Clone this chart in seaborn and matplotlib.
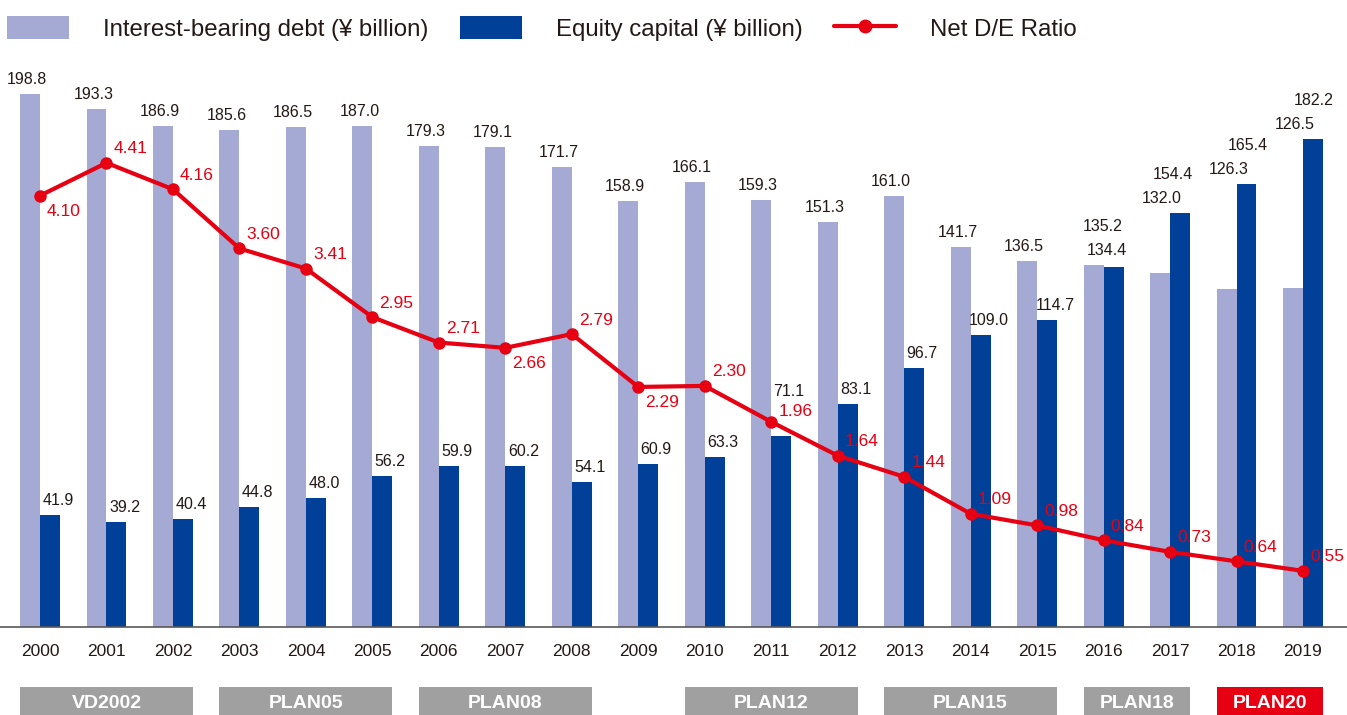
import numpy as np
import pandas as pd
import matplotlib
matplotlib.use("Agg")
import matplotlib.pyplot as plt
import matplotlib.transforms as mtransforms
from matplotlib.patches import Patch, Rectangle
from matplotlib.lines import Line2D
import seaborn as sns

years = list(range(2000, 2020))
debt = [198.8, 193.3, 186.9, 185.6, 186.5, 187.0, 179.3, 179.1, 171.7, 158.9,
        166.1, 159.3, 151.3, 161.0, 141.7, 136.5, 135.2, 132.0, 126.3, 126.5]
equity = [41.9, 39.2, 40.4, 44.8, 48.0, 56.2, 59.9, 60.2, 54.1, 60.9,
          63.3, 71.1, 83.1, 96.7, 109.0, 114.7, 134.4, 154.4, 165.4, 182.2]
de_ratio = [4.10, 4.41, 4.16, 3.60, 3.41, 2.95, 2.71, 2.66, 2.79, 2.29,
            2.30, 1.96, 1.64, 1.44, 1.09, 0.98, 0.84, 0.73, 0.64, 0.55]

plan_names = ["VD2002", "PLAN05", "PLAN08", "PLAN12", "PLAN15", "PLAN18", "PLAN20"]
plan_start = [2000, 2003, 2006, 2010, 2013, 2016, 2018]
plan_end = [2002, 2005, 2008, 2012, 2015, 2017, 2019]

series_names = ["Interest-bearing debt (¥ billion)", "Equity capital (¥ billion)"]
line_name = "Net D/E Ratio"

# ratio labels drawn under the point instead of above
ratio_below = [2000, 2007, 2009]
# years where the two bar labels are stacked over the taller bar
stacked_years = [2016, 2017, 2018, 2019]

C_DEBT = "#a5aad4"
C_EQ = "#004098"
C_RED = "#e60012"
C_TXT = "#231815"
C_PLAN = "#a0a0a0"

sns.set_style("white")
plt.rcParams["font.family"] = ["Liberation Sans", "DejaVu Sans"]
NARROW = ["Liberation Sans Narrow", "Liberation Sans", "DejaVu Sans"]

df = pd.DataFrame({
    "year": years * 2,
    "value": debt + equity,
    "series": [series_names[0]] * len(years) + [series_names[1]] * len(years),
})

fig = plt.figure(figsize=(13.47, 7.15), dpi=100)
ax = fig.add_axes([0, (715 - 627) / 715, 1, (627 - 60) / 715])

sns.barplot(data=df, x="year", y="value", hue="series", palette=[C_DEBT, C_EQ],
            width=0.6, gap=0, saturation=1, legend=False, linewidth=0,
            edgecolor="none", ax=ax)

ax.set_xlim(-40 / 66.45, 19 + 44 / 66.45)
ax.set_ylim(0, 567 / 2.68)
ax.set_xlabel("")
ax.set_ylabel("")
ax.set_yticks([])
for s in ["top", "left", "right"]:
    ax.spines[s].set_visible(False)
ax.spines["bottom"].set_color("#595757")
ax.spines["bottom"].set_linewidth(1.2)
ax.tick_params(axis="x", length=0, pad=12, labelsize=12.5, labelcolor=C_TXT)

# bar value labels
for i, yr in enumerate(years):
    d, e = debt[i], equity[i]
    if yr in stacked_years:
        top = max(d, e)
        lo, hi = (d, e) if d < e else (e, d)
        lo_dx, hi_dx = (-8, 3 if yr == 2017 else 11) if d < e else (3, -1)
        ax.annotate(f"{lo:.1f}", (i, top), xytext=(lo_dx, 7), textcoords="offset pixels",
                    ha="center", va="bottom", fontsize=11.5, color=C_TXT)
        ax.annotate(f"{hi:.1f}", (i, top), xytext=(hi_dx, 31), textcoords="offset pixels",
                    ha="center", va="bottom", fontsize=11.5, color=C_TXT)
        continue
    ax.annotate(f"{d:.1f}", (i - 0.15, d), xytext=(-3, 7), textcoords="offset pixels",
                ha="center", va="bottom", fontsize=11.5, color=C_TXT)
    lift = 30 if yr == 2011 else 0
    ax.annotate(f"{e:.1f}", (i + 0.15, e), xytext=(8, 7 + lift), textcoords="offset pixels",
                ha="center", va="bottom", fontsize=11.5, color=C_TXT)

# net D/E ratio line on twin axis
ax2 = ax.twinx()
sns.lineplot(x=np.arange(len(years)), y=de_ratio, color=C_RED, linewidth=3,
             marker="o", markersize=9, markeredgewidth=0, ax=ax2)
ax2.set_ylim(2 / 105.7, 567 / 105.7 + 2 / 105.7)
ax2.set_yticks([])
for s in ax2.spines.values():
    s.set_visible(False)

for i, yr in enumerate(years):
    if yr in ratio_below:
        dy = -16
    elif yr == 2011:
        dy = 10
    else:
        dy = 14
    ax2.annotate(f"{de_ratio[i]:.2f}", (i, de_ratio[i]), xytext=(7, dy),
                 textcoords="offset pixels", ha="left", va="center",
                 fontsize=12.5, color=C_RED)

# mid-term plan boxes
trans = mtransforms.blended_transform_factory(ax.transData, fig.transFigure)
for name, a, b in zip(plan_names, plan_start, plan_end):
    x0 = years.index(a) - 0.3
    x1 = years.index(b) + 0.3
    col = C_RED if name == "PLAN20" else C_PLAN
    ax.add_patch(Rectangle((x0, -0.01), x1 - x0, 0.01 + 28 / 715, transform=trans,
                           facecolor=col, edgecolor="none", clip_on=False))
    ax.text((x0 + x1) / 2, 11 / 715, name, transform=trans, ha="center", va="center",
            color="white", fontsize=14, fontweight="bold", family=NARROW)

# legend
handles = [Patch(facecolor=C_DEBT, edgecolor="none"),
           Patch(facecolor=C_EQ, edgecolor="none"),
           Line2D([0], [0], color=C_RED, lw=3, marker="o", markersize=9)]
fig.legend(handles, series_names + [line_name], loc="upper left",
           bbox_to_anchor=(7 / 1347, 1 - 16 / 715), ncol=3, frameon=False,
           borderpad=0, borderaxespad=0, handlelength=2.58, handleheight=1.1,
           handletextpad=1.42, columnspacing=1.3,
           prop={"family": NARROW, "size": 17.3}, labelcolor=C_TXT)

fig.savefig("out.png", dpi=100)
